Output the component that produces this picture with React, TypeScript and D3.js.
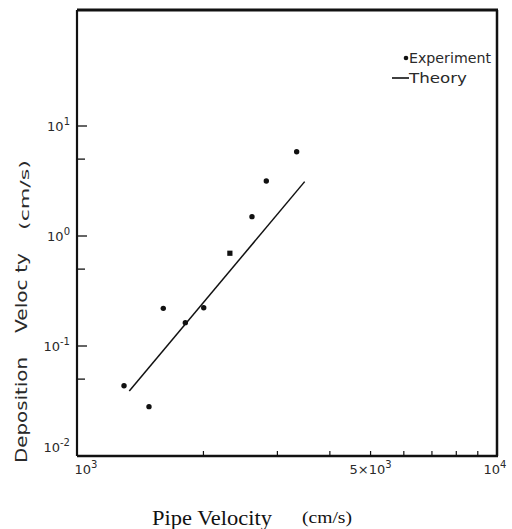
import React from "react";
import * as d3 from "d3";

// Experiment data (pipe velocity cm/s, deposition velocity cm/s)
const expVelocity = [1294, 1484, 1605, 1811, 2003, 2312, 2610, 2823, 3334];
const expDeposition = [0.0435, 0.0281, 0.22, 0.163, 0.223, 0.697, 1.5, 3.16, 5.83];
// Theory line endpoints
const theoryVelocity = [1332, 3484];
const theoryDeposition = [0.039, 3.12];

const xMajorTicks = [1000, 5000, 10000];
const xMajorLabels = [["10", "3"], ["5×10", "3"], ["10", "4"]];
const xMinorTicks = [2000, 3000, 4000, 5000, 6000, 7000, 8000, 9000];
const yMajorTicks = [10, 1, 0.1, 0.01];
const yMajorLabels = [["10", "1"], ["10", "0"], ["10", "-1"], ["10", "-2"]];
const yMinorTicks = [5, 0.5, 0.05];

export default function App() {
  const W = 512, H = 529;
  const left = 77, right = 497, top = 10, bottom = 456;
  const x = d3.scaleLog().domain([1000, 10000]).range([left, right]);
  const y = d3.scaleLog().domain([0.01, Math.pow(10, -2 + (bottom - top) / 110)]).range([bottom, top]);
  const line = d3.line<number>()
    .x((_, i) => x(theoryVelocity[i]))
    .y((_, i) => y(theoryDeposition[i]));
  const ink = "#111";
  const txt = "#2a2a2a";
  const sans = "'DejaVu Sans', sans-serif";

  return (
    <svg width={W} height={H} style={{ position: "absolute", left: 0, top: 0, background: "#fff" }}>
      <rect x={0} y={0} width={W} height={H} fill="#fff" />
      {/* frame */}
      <line x1={left} x2={right + 1} y1={top} y2={top} stroke={ink} strokeWidth={3} />
      <line x1={left} x2={left} y1={top} y2={bottom} stroke={ink} strokeWidth={2.2} />
      <line x1={right} x2={right} y1={top} y2={bottom} stroke={ink} strokeWidth={2.5} />
      <line x1={left} x2={right + 1} y1={bottom} y2={bottom} stroke={ink} strokeWidth={2.5} />
      {/* y ticks */}
      {yMajorTicks.slice(0, 3).map((t) => (
        <line key={"ym" + t} x1={left} x2={left + 10} y1={y(t)} y2={y(t)} stroke={ink} strokeWidth={1.3} />
      ))}
      {yMinorTicks.map((t) => (
        <line key={"yn" + t} x1={left} x2={left + 8} y1={y(t)} y2={y(t)} stroke={ink} strokeWidth={1.3} />
      ))}
      {/* x ticks */}
      {xMinorTicks.map((t) => (
        <line key={"xn" + t} x1={x(t)} x2={x(t)} y1={bottom} y2={bottom - 5} stroke={ink} strokeWidth={1.2} />
      ))}
      {/* y labels */}
      {yMajorTicks.map((t, i) => (
        <text key={"yl" + t} x={left - 7} y={y(t) + (i === 3 ? -4 : 5)} textAnchor="end" fontFamily={sans} fontSize={13} fill={txt}>
          {yMajorLabels[i][0]}
          <tspan dy={-6} fontSize={10}>{yMajorLabels[i][1]}</tspan>
        </text>
      ))}
      {/* x labels */}
      {xMajorTicks.map((t, i) => (
        <text key={"xl" + t} x={i === 2 ? x(t) - 2 : x(t) + (i === 0 ? 9 : 0)} y={474} textAnchor="middle" fontFamily={sans} fontSize={13} fill={txt}>
          {xMajorLabels[i][0]}
          <tspan dy={-6} fontSize={10}>{xMajorLabels[i][1]}</tspan>
        </text>
      ))}
      {/* theory line */}
      <path d={line(theoryVelocity) || ""} fill="none" stroke={ink} strokeWidth={1.5} />
      {/* experiment points */}
      {expVelocity.map((v, i) =>
        i === 5 ? (
          <rect key={"p" + i} x={x(v) - 2.6} y={y(expDeposition[i]) - 2.6} width={5.2} height={5.2} fill={ink} />
        ) : (
          <circle key={"p" + i} cx={x(v)} cy={y(expDeposition[i])} r={2.7} fill={ink} />
        )
      )}
      {/* legend */}
      <circle cx={406} cy={58} r={2.3} fill={ink} />
      <text x={409} y={63} fontFamily={sans} fontSize={14} fill={txt} textLength={82} lengthAdjust="spacingAndGlyphs">Experiment</text>
      <line x1={392} x2={409} y1={78} y2={78} stroke={ink} strokeWidth={1.6} />
      <text x={409} y={83} fontFamily={sans} fontSize={14} fill={txt} textLength={58} lengthAdjust="spacingAndGlyphs">Theory</text>
      {/* y axis title */}
      <g transform="translate(27,0) rotate(-90)">
        <text x={-463} y={0} fontFamily={sans} fontSize={16} fill={txt} textLength={106} lengthAdjust="spacingAndGlyphs">Deposition</text>
        <text x={-333} y={0} fontFamily={sans} fontSize={16} fill={txt} textLength={80} lengthAdjust="spacingAndGlyphs">Veloc ty</text>
        <text x={-230} y={2} fontFamily={sans} fontSize={12} fill={txt} textLength={70} lengthAdjust="spacingAndGlyphs">(cm/s)</text>
      </g>
      {/* x axis title */}
      <text x={152} y={525} fontFamily="'Liberation Serif', serif" fontSize={21} fill={ink} textLength={120} lengthAdjust="spacingAndGlyphs">Pipe Velocity</text>
      <text x={302} y={523} fontFamily="'Liberation Serif', serif" fontSize={16} fill={ink} textLength={50} lengthAdjust="spacingAndGlyphs">(cm/s)</text>
    </svg>
  );
}
